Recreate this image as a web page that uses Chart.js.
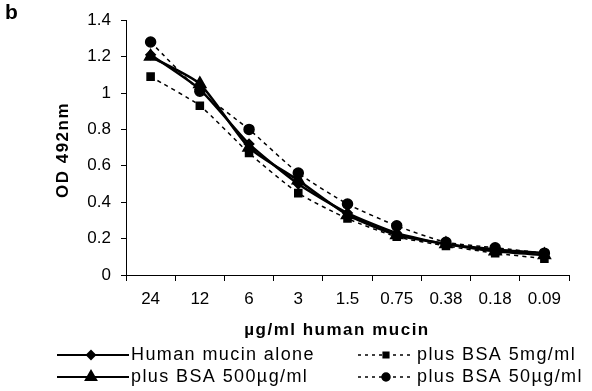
<!DOCTYPE html>
<html>
<head>
<meta charset="utf-8">
<script src="https://cdn.jsdelivr.net/npm/chart.js@4/dist/chart.umd.min.js"></script>
<style>
  html, body { margin: 0; padding: 0; background: #fff; }
  #wrap { width: 592px; height: 391px; }
</style>
</head>
<body>
<div id="wrap"><canvas id="c" width="592" height="391"></canvas></div>
<script>
(() => {
    'use strict';

    // ===== Datos =====
    const concentrations = ['24', '12', '6', '3', '1.5', '0.75', '0.38', '0.18', '0.09'];
    const yTicks = [0, 0.2, 0.4, 0.6, 0.8, 1, 1.2, 1.4];

    const mucinAlone = [1.21, 1.02, 0.72, 0.50, 0.34, 0.23, 0.17, 0.14, 0.12];
    const bsa500ug   = [1.20, 1.05, 0.70, 0.52, 0.33, 0.22, 0.17, 0.13, 0.11];
    const bsa5mg     = [1.09, 0.93, 0.67, 0.45, 0.31, 0.21, 0.16, 0.12, 0.09];
    const bsa50ug    = [1.28, 1.01, 0.80, 0.56, 0.39, 0.27, 0.18, 0.15, 0.12];

    const FONT = '"Liberation Sans", Arial, sans-serif';

    const datasets = [
        { label: 'Human mucin alone', data: mucinAlone, borderColor: '#000', backgroundColor: '#000',
          borderWidth: 2.5, pointStyle: 'rectRot', pointRadius: 4, tension: 0.2, col: 0, row: 0 },
        { label: 'plus BSA 500µg/ml', data: bsa500ug, borderColor: '#000', backgroundColor: '#000',
          borderWidth: 2.5, pointStyle: 'triangle', pointRadius: 6, tension: 0.2, col: 0, row: 1 },
        { label: 'plus BSA 5mg/ml', data: bsa5mg, borderColor: '#000', backgroundColor: '#000',
          borderWidth: 1.5, borderDash: [4, 4], pointStyle: 'rect', pointRadius: 5, tension: 0.2, col: 1, row: 0 },
        { label: 'plus BSA 50µg/ml', data: bsa50ug, borderColor: '#000', backgroundColor: '#000',
          borderWidth: 1.5, borderDash: [4, 4], pointStyle: 'circle', pointRadius: 5, tension: 0.2, col: 1, row: 1 }
    ];

    // ===== Textos extra y leyenda =====
    const extras = {
        id: 'extras',
        afterDraw(chart) {
            const ctx = chart.ctx;
            ctx.save();
            ctx.fillStyle = '#000';
            ctx.textBaseline = 'middle';

            // letra del panel
            ctx.font = 'bold 21px ' + FONT;
            ctx.textAlign = 'left';
            ctx.fillText('b', 5, 13);

            // títulos de ejes
            ctx.font = 'bold 17px ' + FONT;
            ctx.letterSpacing = '1.5px';
            ctx.textAlign = 'center';
            ctx.fillText('µg/ml human mucin', 337, 330);
            ctx.save();
            ctx.translate(63, 150);
            ctx.rotate(-Math.PI / 2);
            ctx.fillText('OD 492nm', 0, 0);
            ctx.restore();

            // leyenda
            const cols = [{ x0: 57, x1: 129, tx: 131 }, { x0: 358, x1: 412, tx: 417 }];
            const rows = [355, 377];
            ctx.font = '18px ' + FONT;
            ctx.letterSpacing = '1.4px';
            ctx.textAlign = 'left';
            chart.data.datasets.forEach((ds) => {
                const c = cols[ds.col], y = rows[ds.row];
                ctx.save();
                ctx.strokeStyle = ds.borderColor;
                ctx.lineWidth = ds.borderWidth === 2.5 ? 2 : 1.5;
                ctx.setLineDash(ds.borderDash ? [3, 4] : []);
                ctx.beginPath();
                ctx.moveTo(c.x0, y);
                ctx.lineTo(c.x1, y);
                ctx.stroke();
                ctx.setLineDash([]);
                Chart.helpers.drawPoint(ctx, {
                    pointStyle: ds.pointStyle,
                    radius: ds.pointStyle === 'triangle' ? 6 : 4,
                    borderWidth: 1, rotation: 0
                }, ds.col === 0 ? 91 : 386, y);
                ctx.restore();
                ctx.fillText(ds.label, c.tx, y);
            });
            ctx.restore();
        }
    };

    new Chart(document.getElementById('c').getContext('2d'), {
        type: 'line',
        data: { labels: concentrations, datasets },
        options: {
            responsive: false,
            animation: false,
            layout: { padding: { left: 0, top: 17, right: 23, bottom: 0 } },
            plugins: { legend: { display: false }, tooltip: { enabled: false } },
            scales: {
                x: {
                    offset: true,
                    afterFit: (s) => { s.height = 116; },
                    border: { color: '#000', width: 1 },
                    grid: { offset: true, drawOnChartArea: false, color: '#000', tickLength: 6 },
                    ticks: { color: '#000', padding: 8, font: { family: FONT, size: 17 } }
                },
                y: {
                    min: 0, max: 1.4,
                    afterFit: (s) => { s.width = 126; },
                    afterBuildTicks: (s) => { s.ticks = yTicks.map(v => ({ value: v })); },
                    border: { color: '#000', width: 1 },
                    grid: { drawOnChartArea: false, color: '#000', tickLength: 5 },
                    ticks: {
                        color: '#000', padding: 10, font: { family: FONT, size: 17 },
                        callback: (v) => String(+v.toFixed(1))
                    }
                }
            }
        },
        plugins: [extras]
    });
})();
</script>
</body>
</html>
